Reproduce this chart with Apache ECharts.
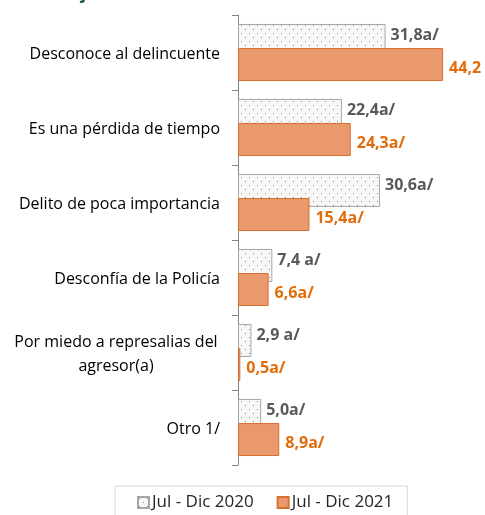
<!DOCTYPE html>
<html>
<head>
<meta charset="utf-8">
<script src="https://cdn.jsdelivr.net/npm/echarts@6/dist/echarts.min.js"></script>
<style>
  html, body { margin: 0; padding: 0; background: #fff; }
  #chart { width: 485px; height: 515px; }
</style>
</head>
<body>
<div id="chart"></div>
<script>
  // categorías (de arriba hacia abajo)
  var categorias = [
    'Desconoce al delincuente',
    'Es una pérdida de tiempo',
    'Delito de poca importancia',
    'Desconfía de la Policía',
    'Por miedo a represalias del\nagresor(a)',
    'Otro 1/'
  ];
  var valores2020 = [31.8, 22.4, 30.6, 7.4, 2.9, 5.0];
  var valores2021 = [44.2, 24.3, 15.4, 6.6, 0.5, 8.9];
  var etiquetas2020 = ['31,8a/', '22,4a/', '30,6a/', '7,4 a/', '2,9 a/', '5,0a/'];
  var etiquetas2021 = ['44,2', '24,3a/', '15,4a/', '6,6a/', '0,5a/', '8,9a/'];
  var periodos = ['Jul - Dic 2020', 'Jul - Dic 2021'];

  // trama punteada para la serie 2020
  var trama = document.createElement('canvas');
  trama.width = 8;
  trama.height = 8;
  var ctx = trama.getContext('2d');
  ctx.fillStyle = '#f7f7f7';
  ctx.fillRect(0, 0, 8, 8);
  ctx.fillStyle = '#8c8c8c';
  ctx.fillRect(1, 1, 1, 1);
  ctx.fillRect(5, 5, 1, 1);

  var fuente = '"Open Sans", Lato, sans-serif';

  var myChart = echarts.init(document.getElementById('chart'));

  var option = {
    animation: false,
    textStyle: { fontFamily: fuente },
    graphic: [{
      type: 'text',
      style: {
        x: 118, y: 3,
        text: 'Porcentaje a/',
        textAlign: 'right',
        textVerticalAlign: 'bottom',
        font: 'bold 17px ' + fuente,
        fill: '#1d5a36'
      }
    }],
    legend: {
      data: periodos,
      top: 486,
      left: 115,
      icon: 'rect',
      itemWidth: 11,
      itemHeight: 11,
      itemGap: 23,
      padding: [8, 14, 12, 22],
      borderColor: '#d9d9d9',
      borderWidth: 1,
      textStyle: { fontSize: 17, color: '#262626', fontFamily: fuente, padding: [0, 0, 0, -2] }
    },
    grid: {
      left: 238,
      right: 15,
      top: 15,
      bottom: 50,
      containLabel: false
    },
    xAxis: {
      type: 'value',
      min: 0,
      max: 50,
      show: false,
      splitLine: { show: false }
    },
    yAxis: {
      type: 'category',
      inverse: true,
      data: categorias,
      axisLine: { lineStyle: { color: '#868686', width: 1 } },
      axisTick: { show: true, length: 6, inside: false, lineStyle: { color: '#868686' } },
      axisLabel: {
        margin: 18,
        fontSize: 16,
        color: '#000',
        fontFamily: fuente,
        lineHeight: 24,
        padding: [3, 0, 0, 0],
        formatter: function (v) {
          if (v.indexOf('\n') >= 0) {
            return v.split('\n').map(function (l) { return '{m|' + l + '}'; }).join('\n');
          }
          return v;
        },
        rich: {
          m: { width: 208, align: 'center', fontSize: 16, color: '#000', fontFamily: fuente, lineHeight: 24 }
        }
      }
    },
    series: [
      {
        name: periodos[0],
        type: 'bar',
        data: valores2020,
        barWidth: 33,
        barGap: '-27%',
        itemStyle: {
          color: { image: trama, repeat: 'repeat' },
          borderColor: '#a6a6a6',
          borderWidth: 1
        },
        label: {
          show: true,
          position: 'right',
          distance: 5,
          offset: [0, -5],
          fontSize: 16,
          fontWeight: 'bold',
          color: '#595959',
          fontFamily: fuente,
          formatter: function (p) { return etiquetas2020[p.dataIndex]; }
        }
      },
      {
        name: periodos[1],
        type: 'bar',
        data: valores2021,
        barWidth: 33,
        itemStyle: {
          color: '#e9996c',
          borderColor: '#d8702f',
          borderWidth: 1
        },
        label: {
          show: true,
          position: 'right',
          distance: 6,
          offset: [0, 4],
          fontSize: 16,
          fontWeight: 'bold',
          color: '#e36c0a',
          fontFamily: fuente,
          formatter: function (p) { return etiquetas2021[p.dataIndex]; }
        }
      }
    ]
  };

  myChart.setOption(option);
</script>
</body>
</html>
